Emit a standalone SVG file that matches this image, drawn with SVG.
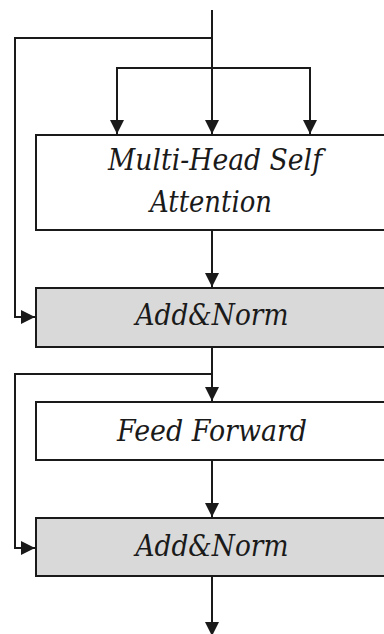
<svg xmlns="http://www.w3.org/2000/svg" width="384" height="634" viewBox="0 0 384 634">
<style>
.box{fill:#ffffff;stroke:#1a1a1a;stroke-width:2}
.norm{fill:#d9d9d9;stroke:#1a1a1a;stroke-width:2}
.lbl{font-family:"DejaVu Serif","Liberation Serif",serif;font-style:italic;font-size:29px;fill:#1a1a1a;text-anchor:middle}
.ln{fill:none;stroke:#1a1a1a;stroke-width:2}
</style>
<defs>
<marker id="ah" markerUnits="userSpaceOnUse" markerWidth="14" markerHeight="14" viewBox="0 0 14 14" refX="14" refY="7" orient="auto">
<path d="M0,0 L14,7 L0,14 z" fill="#1a1a1a"/>
</marker>
</defs>
<g id="mhsa">
<rect class="box" x="36" y="135" width="360" height="95"/>
<text class="lbl" x="215" y="170" textLength="214" lengthAdjust="spacingAndGlyphs">Multi-Head Self</text>
<text class="lbl" x="211" y="212" textLength="122" lengthAdjust="spacingAndGlyphs">Attention</text>
</g>
<g id="addnorm1">
<rect class="norm" x="36" y="288" width="360" height="59"/>
<text class="lbl" x="212" y="325" textLength="153" lengthAdjust="spacingAndGlyphs">Add&amp;Norm</text>
</g>
<g id="ffn">
<rect class="box" x="36" y="402" width="360" height="58"/>
<text class="lbl" x="212" y="441" textLength="190" lengthAdjust="spacingAndGlyphs">Feed Forward</text>
</g>
<g id="addnorm2">
<rect class="norm" x="36" y="518" width="360" height="58"/>
<text class="lbl" x="212" y="556" textLength="153" lengthAdjust="spacingAndGlyphs">Add&amp;Norm</text>
</g>
<g id="connectors">
<path class="ln" d="M212,10 V134" marker-end="url(#ah)"/>
<path class="ln" d="M212,68 H117 V134" marker-end="url(#ah)"/>
<path class="ln" d="M212,68 H310 V134" marker-end="url(#ah)"/>
<path class="ln" d="M212,38 H15 V317 H35" marker-end="url(#ah)"/>
<path class="ln" d="M212,230 V287" marker-end="url(#ah)"/>
<path class="ln" d="M212,347 V401" marker-end="url(#ah)"/>
<path class="ln" d="M212,374 H15 V548 H35" marker-end="url(#ah)"/>
<path class="ln" d="M212,460 V517" marker-end="url(#ah)"/>
<path class="ln" d="M212,576 V636" marker-end="url(#ah)"/>
</g>
</svg>
